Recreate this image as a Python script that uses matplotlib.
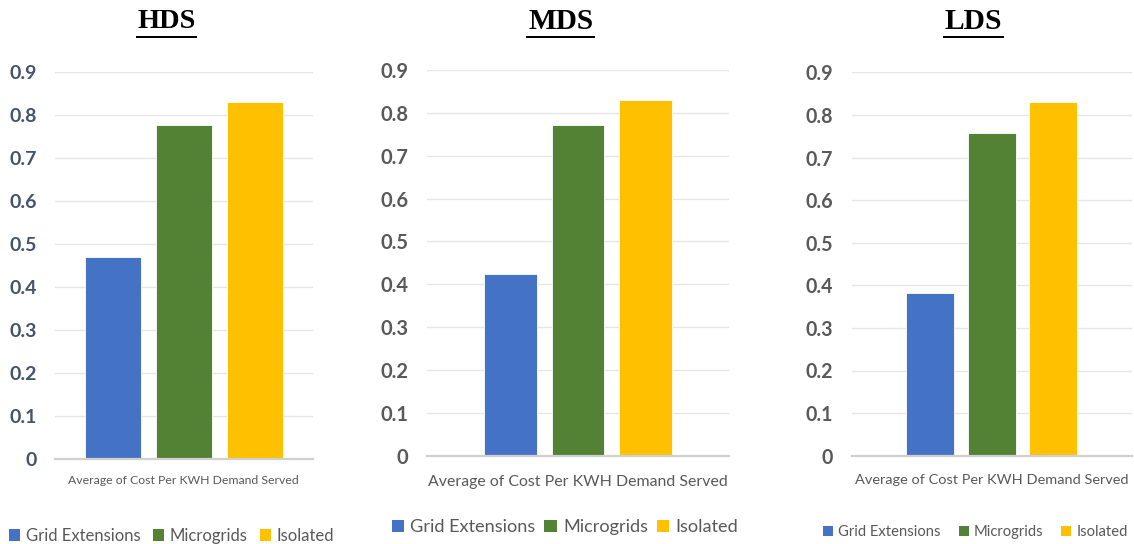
import matplotlib
matplotlib.use("Agg")
import matplotlib.pyplot as plt
from matplotlib.patches import Patch
from matplotlib.lines import Line2D

# ---- data ----
panels = ["HDS", "MDS", "LDS"]
series = ["Grid Extensions", "Microgrids", "Isolated"]
category = "Average of Cost Per KWH Demand Served"
hds_values = [0.470, 0.777, 0.830]
mds_values = [0.424, 0.771, 0.831]
lds_values = [0.383, 0.757, 0.830]
panel_values = [hds_values, mds_values, lds_values]
y_ticks = [0, 0.1, 0.2, 0.3, 0.4, 0.5, 0.6, 0.7, 0.8, 0.9]
y_tick_labels = ["0", "0.1", "0.2", "0.3", "0.4", "0.5", "0.6", "0.7", "0.8", "0.9"]
colors = ["#4472C4", "#548235", "#FFC000"]

# ---- layout (pixels) ----
W, H, DPI = 1134, 544, 100
SANS = "Lato"
SERIF = "Liberation Serif"

layout = [
    dict(box=(55.0, 312.7, 71.7, 459.0), step=0.276, bw=0.2185,
         tick_color="#44546A", tick_w=27.3, tick_pad=17.7,
         title_x=166.7, title_w=58.0,
         xl_dy=21.0, xl_w=230.0,
         leg=(171.7, 535.7), leg_w=115.0, leg_gap=12.0),
    dict(box=(427.3, 729.0, 70.0, 455.7), step=0.2237, bw=0.174,
         tick_color="#595959", tick_w=28.3, tick_pad=19.0,
         title_x=561.0, title_w=65.0,
         xl_dy=26.0, xl_w=300.0,
         leg=(565.0, 527.3), leg_w=125.0, leg_gap=9.0),
    dict(box=(851.7, 1131.7, 72.3, 455.7), step=0.220, bw=0.1725,
         tick_color="#595959", tick_w=27.6, tick_pad=18.4,
         title_x=973.3, title_w=57.0,
         xl_dy=24.3, xl_w=272.0,
         leg=(975.4, 532.3), leg_w=102.0, leg_gap=18.0),
]

fig = plt.figure(figsize=(W / DPI, H / DPI), dpi=DPI)
fig.patch.set_facecolor("white")
renderer = fig.canvas.get_renderer()
PX_PER_PT = DPI / 72.0


def fit_size(text, target_px, **kw):
    t = fig.text(0, 0, text, fontsize=10, **kw)
    w = t.get_window_extent(renderer).width
    t.remove()
    return 10.0 * target_px / w


for name, vals, lay in zip(panels, panel_values, layout):
    x0, x1, ytop, ybot = lay["box"]
    ax = fig.add_axes([x0 / W, 1 - ybot / H, (x1 - x0) / W, (ybot - ytop) / H])
    ax.set_xlim(-0.5, 0.5)
    ax.set_ylim(0, 0.9)

    offsets = [-lay["step"], 0.0, lay["step"]]
    for off, v, c, s in zip(offsets, vals, colors, series):
        ax.bar(off, v, width=lay["bw"], color=c, edgecolor="white",
               linewidth=0.6, label=s, zorder=3)

    # axes styling
    for side in ("top", "right", "left"):
        ax.spines[side].set_visible(False)
    ax.spines["bottom"].set_color("#D0D0D0")
    ax.spines["bottom"].set_linewidth(1.6)
    ax.spines["bottom"].set_zorder(4)
    ax.yaxis.grid(True, color="#E6E6E6", linewidth=1.0, zorder=0)
    ax.set_axisbelow(True)
    ax.set_xticks([])

    tick_fs = fit_size("0.9", lay["tick_w"], family=SANS, weight="bold")
    ax.set_yticks(y_ticks)
    ax.set_yticklabels(y_tick_labels, fontfamily=SANS, fontweight="bold",
                       fontsize=tick_fs, color=lay["tick_color"])
    ax.tick_params(axis="y", length=0, pad=lay["tick_pad"] / PX_PER_PT)

    # category label under the bars
    xl_fs = fit_size(category, lay["xl_w"], family=SANS)
    ax.annotate(category, xy=(0, 0), xycoords=("data", "axes fraction"),
                xytext=(0, -lay["xl_dy"] / PX_PER_PT), textcoords="offset points",
                ha="center", va="center", fontsize=xl_fs, family=SANS,
                color="#595959")

    # underlined bold title
    t_fs = fit_size(name, lay["title_w"], family=SERIF, weight="bold")
    title = fig.text(lay["title_x"] / W, 1 - 21.7 / H, name, ha="center",
                     va="center", fontsize=t_fs, family=SERIF,
                     fontweight="bold", color="black")
    bb = title.get_window_extent(renderer)
    uy = 1 - 37.3 / H
    fig.add_artist(Line2D([(bb.x0 - 1) / W, (bb.x1 + 0.5) / W], [uy, uy],
                          transform=fig.transFigure, color="black",
                          linewidth=2.0 / PX_PER_PT))

    # legend below the chart
    leg_fs = fit_size(series[0], lay["leg_w"], family=SANS)
    fs_px = leg_fs * PX_PER_PT
    handles = [Patch(facecolor=c, edgecolor="none") for c in colors]
    lx, ly = lay["leg"]
    fig.legend(handles, series, loc="center",
               bbox_to_anchor=(lx / W, 1 - ly / H), ncol=3, frameon=False,
               prop=dict(family=SANS, size=leg_fs), labelcolor="#595959",
               handlelength=0.68, handleheight=0.68, handletextpad=0.35,
               columnspacing=lay["leg_gap"] / fs_px, borderpad=0,
               borderaxespad=0)

fig.savefig("out.png", dpi=DPI, facecolor="white")
